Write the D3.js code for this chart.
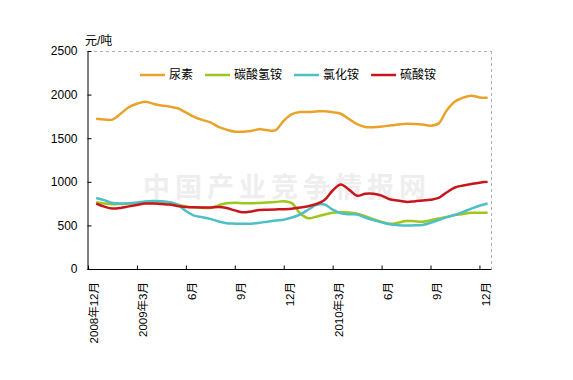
<!DOCTYPE html>
<html><head><meta charset="utf-8">
<script src="https://cdn.jsdelivr.net/npm/d3@7/dist/d3.min.js"></script>
<style>
html,body{margin:0;padding:0;background:#fff;}
svg text{font-family:"Liberation Sans","Noto Sans CJK SC",sans-serif;}
</style></head>
<body>
<svg id="chart" width="573" height="380"></svg>
<script>
// ---- data (semi-monthly samples, month offset from Dec 2008) ----
const monthOffsets = d3.range(0, 24.01, 0.5);
const seriesNames = ["尿素", "碳酸氢铵", "氯化铵", "硫酸铵"];
const urea = [1722,1715,1713,1780,1855,1895,1918,1895,1875,1862,1843,1795,1745,1710,1682,1630,1598,1575,1575,1582,1604,1592,1592,1700,1775,1800,1800,1807,1810,1798,1780,1720,1660,1628,1626,1634,1645,1656,1666,1664,1656,1644,1670,1820,1920,1965,1988,1968,1965];
const bicarbonate = [765,752,743,745,750,755,765,772,770,765,740,718,708,702,700,730,755,760,755,753,758,762,768,778,755,640,582,600,625,645,650,648,635,605,570,540,518,530,550,548,543,560,580,598,618,632,645,646,646];
const chloride = [815,790,758,752,755,763,775,780,777,765,735,665,612,595,575,545,525,520,518,520,530,543,555,565,590,625,680,735,740,680,640,628,625,590,560,535,513,503,498,502,505,530,562,595,622,655,692,725,752];
const sulfate = [750,715,693,700,718,735,750,752,745,740,722,712,707,705,705,712,700,672,650,660,676,680,683,686,692,705,720,745,790,900,970,910,840,862,862,842,800,785,770,775,785,795,815,880,935,958,975,990,1000];
const yTicks = [0,500,1000,1500,2000,2500];
const xTickMonths = [0,3,6,9,12,15,18,21,24];
const xTickLabels = ["2008年12月","2009年3月","6月","9月","12月","2010年3月","6月","9月","12月"];
const colors = ["#E9A32A","#9DC71E","#4DBFC6","#C8161D"];
const yUnit = "元/吨";
const watermark = "中国产业竞争情报网";

// ---- layout ----
const svg = d3.select("#chart");
const pLeft = 88, pTop = 51, pBottom = 269, pRight = 491;
const monthPx = 16.31;
const x = d3.scaleLinear().domain([0, 25]).range([pLeft, pLeft + 25 * monthPx]);
const y = d3.scaleLinear().domain([0, 2500]).range([pBottom, pTop]);

// watermark
svg.append("text").attr("x", 287).attr("y", 197).attr("text-anchor", "middle")
  .attr("font-size", 27).attr("font-weight", "bold").attr("letter-spacing", 5)
  .attr("fill", "#eeeeee").style("font-family", "'Noto Sans CJK SC'").text(watermark);

// top dashed gridline & right border
svg.append("line").attr("x1", pLeft).attr("x2", pRight).attr("y1", y(2500)+0.5).attr("y2", y(2500)+0.5)
  .attr("stroke", "#b0b0b0").attr("stroke-dasharray", "3,3");
svg.append("line").attr("x1", pRight+0.5).attr("x2", pRight+0.5).attr("y1", pTop).attr("y2", pBottom)
  .attr("stroke", "#b0b0b0").attr("stroke-dasharray", "3,3");

// y axis
const yAxis = svg.append("g").attr("transform", `translate(${pLeft-0.5},0)`)
  .call(d3.axisLeft(y).tickValues(yTicks).tickFormat(d3.format("d")).tickSizeInner(-4).tickSizeOuter(0).tickPadding(10));
yAxis.select(".domain").attr("stroke", "#000");
yAxis.selectAll(".tick line").attr("stroke", "#000");
yAxis.selectAll("text").attr("font-size", 12).attr("fill", "#000")
  .style("font-family", "'Liberation Sans',Arial,sans-serif");

// x axis
const xAxis = svg.append("g").attr("transform", `translate(0,${pBottom+0.5})`)
  .call(d3.axisBottom(x).tickValues(xTickMonths).tickSizeInner(-4).tickSizeOuter(0).tickFormat(""));
xAxis.select(".domain").attr("d", `M${pLeft-0.5},0H${pRight+0.5}`).attr("stroke", "#000");
xAxis.selectAll(".tick line").attr("stroke", "#000");

// x labels (rotated)
svg.append("g").selectAll("text").data(xTickMonths).join("text")
  .attr("transform", (d) => `translate(${x(d + 0.5) - 2},282) rotate(-90)`)
  .attr("text-anchor", "end").attr("dy", "0.35em")
  .attr("font-size", 11.5).attr("fill", "#000")
  .text((d, i) => xTickLabels[i]);

// unit label
svg.append("text").attr("x", 85).attr("y", 45).attr("font-size", 12).attr("fill", "#000").text(yUnit);

// lines
const seriesData = [urea, bicarbonate, chloride, sulfate];
const line = d3.line().x((d, i) => x(monthOffsets[i] + 0.5)).y(d => y(d)).curve(d3.curveCatmullRom.alpha(0.5));
seriesData.forEach((vals, i) => {
  svg.append("path").datum(vals).attr("d", line).attr("fill", "none")
    .attr("stroke", colors[i]).attr("stroke-width", 2.5).attr("stroke-linejoin", "round");
});

// legend
let lx = 140;
const ly = 75;
seriesNames.forEach((name, i) => {
  svg.append("line").attr("x1", lx).attr("x2", lx + 25).attr("y1", ly).attr("y2", ly)
    .attr("stroke", colors[i]).attr("stroke-width", 2.5);
  const t = svg.append("text").attr("x", lx + 29).attr("y", ly).attr("dy", "0.35em")
    .attr("font-size", 12).attr("fill", "#000").text(name);
  lx = lx + 29 + t.node().getComputedTextLength() + 12;
});
</script>
</body></html>
